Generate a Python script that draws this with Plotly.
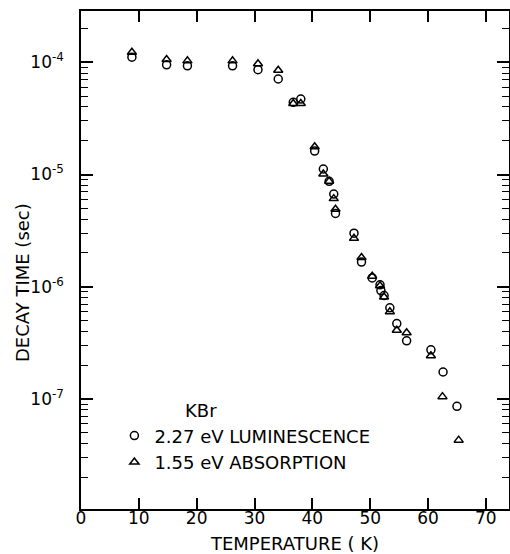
import plotly.graph_objects as go

# ---- data ----
temp_lum = [8.8, 14.8, 18.4, 26.2, 30.6, 34.1, 36.7, 38.0, 40.4, 41.9, 42.9, 43.7, 44.0,
            47.2, 48.5, 50.35, 51.7, 51.85, 52.4, 53.4, 54.6, 56.3, 60.5, 62.6, 65.0]
decay_lum = [1.11e-4, 9.5e-5, 9.3e-5, 9.3e-5, 8.6e-5, 7.1e-5, 4.4e-5, 4.7e-5, 1.62e-5,
             1.12e-5, 8.7e-6, 6.7e-6, 4.5e-6, 3.0e-6, 1.66e-6, 1.2e-6, 1.04e-6, 9.25e-7,
             8.35e-7, 6.5e-7, 4.7e-7, 3.3e-7, 2.74e-7, 1.74e-7, 8.6e-8]

temp_abs = [8.8, 14.8, 18.4, 26.2, 30.6, 34.1, 36.7, 38.0, 40.4, 41.9, 42.9, 43.7, 44.0,
            47.2, 48.5, 50.35, 51.7, 52.4, 53.4, 54.6, 56.3, 60.5, 62.5, 65.3]
decay_abs = [1.23e-4, 1.06e-4, 1.03e-4, 1.03e-4, 9.7e-5, 8.5e-5, 4.3e-5, 4.3e-5, 1.77e-5,
             1.01e-5, 8.7e-6, 6.1e-6, 4.9e-6, 2.7e-6, 1.82e-6, 1.24e-6, 1.02e-6, 8.1e-7,
             6.0e-7, 4.1e-7, 3.9e-7, 2.43e-7, 1.05e-7, 4.3e-8]

x_ticks = [0, 10, 20, 30, 40, 50, 60, 70]
x_ticklabels = ["0", "10", "20", "30", "40", "50", "60", "70"]
y_ticks = [1e-7, 1e-6, 1e-5, 1e-4]
y_ticklabels = ["10<sup>-7</sup>", "10<sup>-6</sup>", "10<sup>-5</sup>", "10<sup>-4</sup>"]
y_minor = [m * 10.0 ** e for e in range(-8, -3) for m in range(2, 10)]

series_names = ["2.27 eV LUMINESCENCE", "1.55 eV ABSORPTION"]
material = "KBr"

FONT = "DejaVu Sans"

fig = go.Figure()
fig.add_trace(go.Scatter(
    x=temp_lum, y=decay_lum, mode="markers", name=series_names[0],
    marker=dict(symbol="circle-open", size=8, color="black", line=dict(width=1.5, color="black")),
))
fig.add_trace(go.Scatter(
    x=temp_abs, y=decay_abs, mode="markers", name=series_names[1],
    marker=dict(symbol="triangle-up-open", size=8, color="black", line=dict(width=1.5, color="black")),
))

fig.update_layout(
    width=510, height=554,
    margin=dict(l=81, r=1, t=11, b=45, autoexpand=False),
    paper_bgcolor="white", plot_bgcolor="white",
    font=dict(family=FONT, color="black", size=16),
    showlegend=True,
    legend=dict(
        x=0.078, y=0.184, xanchor="left", yanchor="top",
        bgcolor="rgba(0,0,0,0)", borderwidth=0,
        font=dict(family=FONT, size=18, color="black"),
        itemsizing="trace", tracegroupgap=0,
    ),
    xaxis=dict(
        range=[0, 74], tickmode="array", tickvals=x_ticks, ticktext=x_ticklabels,
        ticks="inside", ticklen=11, tickwidth=1.5, tickcolor="black",
        showline=True, linecolor="black", linewidth=1.5, mirror="ticks",
        showgrid=False, zeroline=False, automargin=False,
        tickfont=dict(family=FONT, size=17),
        ticklabelstandoff=-7,
        title=dict(text="TEMPERATURE ( K)", font=dict(family=FONT, size=18), standoff=11),
    ),
    yaxis=dict(
        type="log", range=[-7.98, -3.543], tickmode="array", tickvals=y_ticks, ticktext=y_ticklabels,
        ticks="inside", ticklen=12, tickwidth=1.5, tickcolor="black",
        showline=True, linecolor="black", linewidth=1.5, mirror="ticks",
        showgrid=False, zeroline=False, automargin=False,
        tickfont=dict(family=FONT, size=17),
        minor=dict(tickmode="array", tickvals=y_minor, ticks="inside", ticklen=7,
                   tickwidth=1.2, tickcolor="black", showgrid=False),
        ticklabelstandoff=12,
    ),
    annotations=[
        dict(text=material, xref="paper", yref="paper", x=(201 - 81) / 428, y=(509 - 410) / 498,
             xanchor="center", yanchor="middle",
             showarrow=False, font=dict(family=FONT, size=18, color="black")),
        dict(text="DECAY TIME (sec)", xref="paper", yref="paper", x=(22 - 81) / 428,
             y=(509 - 283) / 498, textangle=-90, showarrow=False,
             xanchor="center", yanchor="middle",
             font=dict(family=FONT, size=18, color="black")),
    ],
)

fig.write_html(
    "out.html",
    config={"displayModeBar": False},
    post_script="document.body.style.margin='0';document.body.style.overflow='hidden';",
)
